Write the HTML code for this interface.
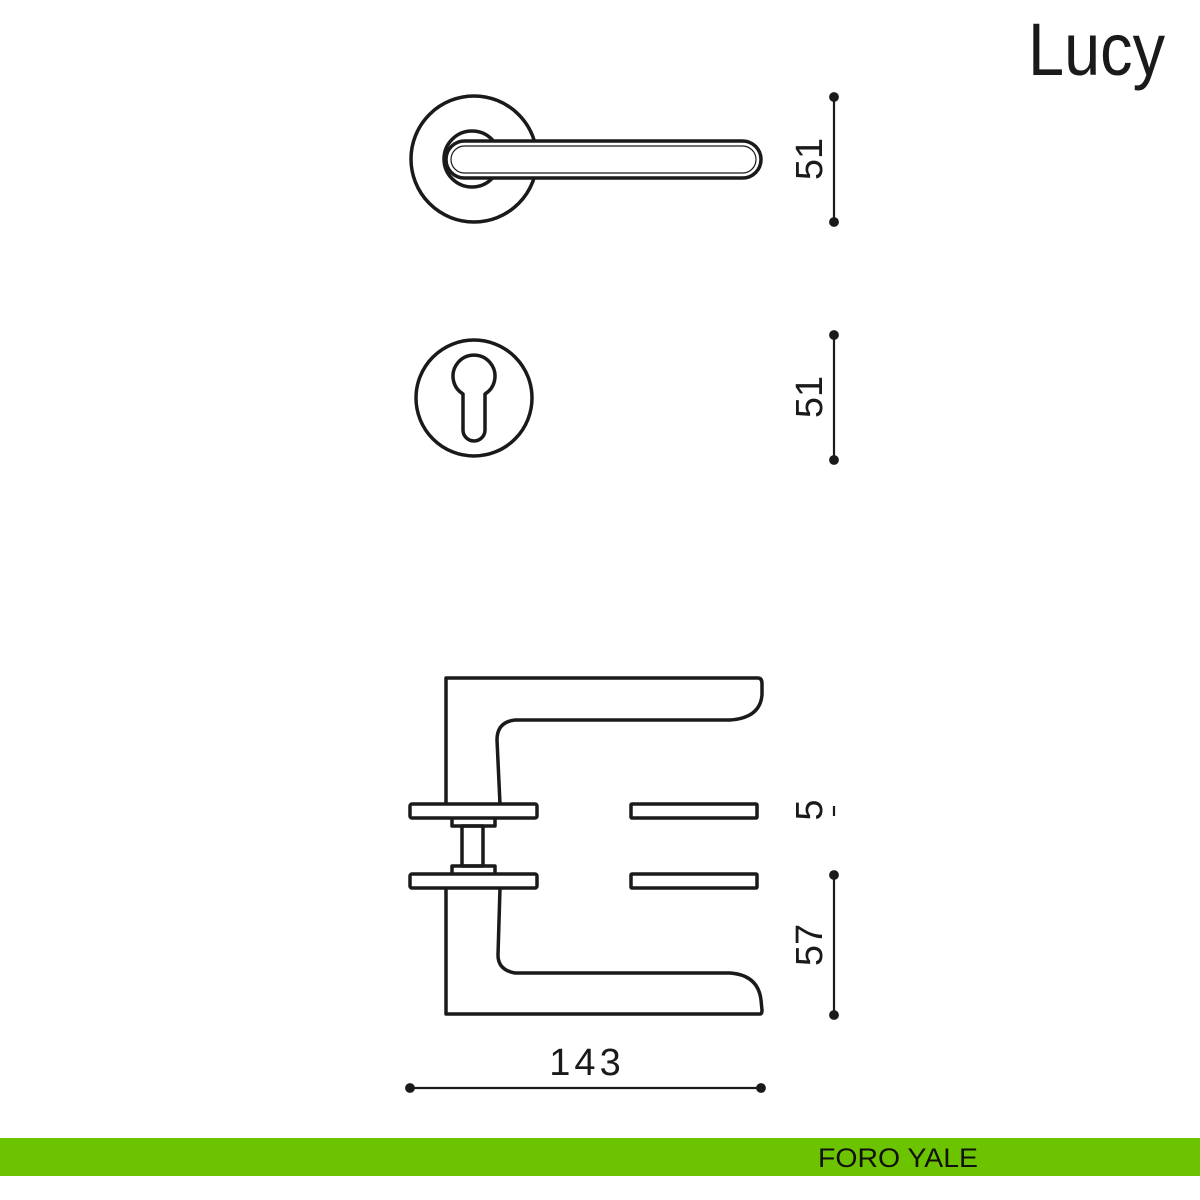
<!DOCTYPE html>
<html><head><meta charset="utf-8"><style>html,body{margin:0;padding:0;background:#fff}svg{display:block}</style></head>
<body>
<svg width="1200" height="1200" viewBox="0 0 1200 1200" xmlns="http://www.w3.org/2000/svg">
<rect width="1200" height="1200" fill="#fff"/>
<text x="1028" y="75" font-family="Liberation Sans, sans-serif" font-size="74" textLength="137" lengthAdjust="spacingAndGlyphs" fill="#1a1a1a">Lucy</text>
<g fill="none" stroke="#1a1a1a" stroke-width="3.5" stroke-linejoin="round">
  <!-- top rose with lever -->
  <circle cx="474" cy="159" r="63"/>
  <circle cx="472" cy="159" r="28"/>
  <rect x="446" y="141" width="315" height="37" rx="18.5" fill="#fff"/>
  <rect x="451" y="146" width="305" height="27" rx="13.5" stroke-width="1.2"/>
  <!-- keyhole rose -->
  <circle cx="474" cy="398" r="58"/>
  <path d="M463 394 A21 21 0 1 1 485 394 L485 430 A11 11 0 0 1 463 430 Z"/>
  <!-- side view -->
  <path d="M446 804 L446 678 L758 678 Q762 678 762 684 L762 695 Q760 718 730 720 L515 720 Q497 722 497 740 L500 804"/>
  <path d="M446 888 L446 1014 L760 1014 Q762 1014 762 1010 L761 1000 Q758 975 730 973 L515 973 Q498 970 498 955 L500 888"/>
  <rect x="410" y="804" width="127" height="14" rx="2"/>
  <rect x="410" y="874" width="127" height="14" rx="2"/>
  <rect x="631" y="804" width="126" height="14" rx="1"/>
  <rect x="631" y="874" width="126" height="14" rx="1"/>
  <path d="M452 818 L452 826 L495 826 L495 818"/>
  <path d="M452 874 L452 866 L495 866 L495 874"/>
  <rect x="462" y="826" width="21" height="40"/>
</g>
<g stroke="#1a1a1a" stroke-width="2.2" fill="#1a1a1a">
  <line x1="834" y1="97" x2="834" y2="222"/><circle cx="834" cy="97" r="3.8"/><circle cx="834" cy="222" r="3.8"/>
  <line x1="834" y1="335" x2="834" y2="460"/><circle cx="834" cy="335" r="3.8"/><circle cx="834" cy="460" r="3.8"/>
  <line x1="834" y1="875" x2="834" y2="1015"/><circle cx="834" cy="875" r="3.8"/><circle cx="834" cy="1015" r="3.8"/>
  <line x1="834" y1="806" x2="834" y2="816"/>
  <line x1="410" y1="1088" x2="761" y2="1088"/><circle cx="410" cy="1088" r="3.8"/><circle cx="761" cy="1088" r="3.8"/>
</g>
<g font-family="Liberation Sans, sans-serif" font-size="38" fill="#1a1a1a" text-anchor="middle">
  <text transform="translate(822,159) rotate(-90)">51</text>
  <text transform="translate(822,397) rotate(-90)">51</text>
  <text transform="translate(822,810) rotate(-90)">5</text>
  <text transform="translate(822,945) rotate(-90)">57</text>
  <text x="587" y="1075" letter-spacing="4">143</text>
</g>
<rect x="0" y="1138" width="1200" height="38" fill="#6cc400"/>
<text x="818" y="1167" font-family="Liberation Sans, sans-serif" font-size="27" textLength="160" lengthAdjust="spacingAndGlyphs" fill="#111">FORO YALE</text>
</svg>
</body></html>
